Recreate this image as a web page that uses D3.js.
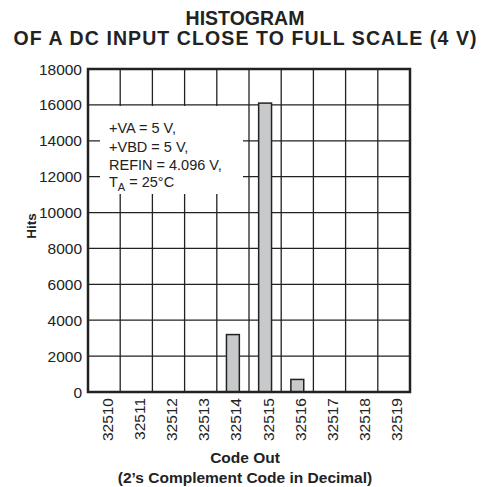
<!DOCTYPE html>
<html>
<head>
<meta charset="utf-8">
<script src="https://cdn.jsdelivr.net/npm/d3@7"></script>
<style>
  body { margin: 0; background: #fff; }
  text { font-family: "Liberation Sans", Arial, sans-serif; }
</style>
</head>
<body>
<div id="chart"></div>
<script>
// values
const codes = ['32510', '32511', '32512', '32513', '32514', '32515', '32516', '32517', '32518', '32519'];
const hits = [0, 0, 0, 0, 3200, 16100, 700, 0, 0, 0];
const yTicks = [0, 2000, 4000, 6000, 8000, 10000, 12000, 14000, 16000, 18000];
const titleLines = ['HISTOGRAM', 'OF A DC INPUT CLOSE TO FULL SCALE (4 V)'];
const xTitleLines = ['Code Out', '(2\u2019s Complement Code in Decimal)'];

const W = 489, H = 487;
const margin = { top: 69, right: 79, bottom: 95, left: 88 };
const width = W - margin.left - margin.right;
const height = H - margin.top - margin.bottom;
const ink = '#222';

const svg = d3.select('#chart').append('svg')
  .attr('width', W)
  .attr('height', H);

const g = svg.append('g').attr('transform', `translate(${margin.left},${margin.top})`);

const x = d3.scaleBand().domain(codes).range([0, width]).padding(0);
const y = d3.scaleLinear().domain([0, 18000]).range([height, 0]);

// grid
g.selectAll('.hgrid').data(yTicks).join('line')
  .attr('class', 'hgrid')
  .attr('x1', 0).attr('x2', width)
  .attr('y1', d => y(d)).attr('y2', d => y(d))
  .attr('stroke', ink).attr('stroke-width', 1.3);

g.selectAll('.vgrid').data(codes.slice(1)).join('line')
  .attr('class', 'vgrid')
  .attr('x1', d => x(d)).attr('x2', d => x(d))
  .attr('y1', 0).attr('y2', height)
  .attr('stroke', ink).attr('stroke-width', 1.3);

// bars
const bw = x.bandwidth() * 0.4;
g.selectAll('.bar').data(codes.map((c, i) => ({ code: c, v: hits[i] })).filter(d => d.v > 0)).join('rect')
  .attr('class', 'bar')
  .attr('x', d => x(d.code) + (x.bandwidth() - bw) / 2)
  .attr('y', d => y(d.v))
  .attr('width', bw)
  .attr('height', d => height - y(d.v))
  .attr('fill', '#c8c9cb')
  .attr('stroke', ink)
  .attr('stroke-width', 1.5);

// annotation box
const note = g.append('g');
note.append('rect')
  .attr('x', 12).attr('y', 37)
  .attr('width', 143).attr('height', 88)
  .attr('fill', '#fff');
const noteText = note.append('text')
  .attr('font-size', 14.5).attr('fill', ink);
noteText.append('tspan').attr('x', 21).attr('y', 64).text('+VA = 5 V,');
noteText.append('tspan').attr('x', 21).attr('y', 83).text('+VBD = 5 V,');
noteText.append('tspan').attr('x', 21).attr('y', 101).text('REFIN = 4.096 V,');
const ta = note.append('text').attr('font-size', 14.5).attr('fill', ink)
  .attr('x', 21).attr('y', 118);
ta.append('tspan').text('T');
ta.append('tspan').attr('font-size', 11).attr('dy', 4).text('A');
ta.append('tspan').attr('dy', -4).text(' = 25\u00b0C');

// frame
g.append('rect')
  .attr('width', width).attr('height', height)
  .attr('fill', 'none')
  .attr('stroke', ink).attr('stroke-width', 2.5);

// y axis labels
g.selectAll('.ylab').data(yTicks).join('text')
  .attr('class', 'ylab')
  .attr('x', -6).attr('y', d => y(d))
  .attr('dy', '0.36em')
  .attr('text-anchor', 'end')
  .attr('font-size', 15.5).attr('fill', ink)
  .text(d => d);

// x axis labels
g.selectAll('.xlab').data(codes).join('text')
  .attr('class', 'xlab')
  .attr('transform', d => `translate(${x(d) + x.bandwidth() / 2},${height + 6}) rotate(-90)`)
  .attr('text-anchor', 'end')
  .attr('dy', '0.55em')
  .attr('font-size', 15.5).attr('fill', ink)
  .text(d => d);

// titles
svg.selectAll('.title').data(titleLines).join('text')
  .attr('class', 'title')
  .attr('x', 245).attr('y', (d, i) => 25 + i * 20)
  .attr('text-anchor', 'middle')
  .attr('font-size', 19.5).attr('font-weight', 'bold').attr('fill', ink)
  .attr('textLength', (d, i) => i === 1 ? 463 : null)
  .attr('lengthAdjust', 'spacing')
  .text(d => d);

svg.selectAll('.xtitle').data(xTitleLines).join('text')
  .attr('class', 'xtitle')
  .attr('x', 245).attr('y', (d, i) => 463 + i * 20)
  .attr('text-anchor', 'middle')
  .attr('font-size', 15.5).attr('font-weight', 'bold').attr('fill', ink)
  .text(d => d);

svg.append('text')
  .attr('transform', 'translate(36,226) rotate(-90)')
  .attr('text-anchor', 'middle')
  .attr('font-size', 13.5).attr('font-weight', 'bold').attr('fill', ink)
  .text('Hits');
</script>
</body>
</html>
